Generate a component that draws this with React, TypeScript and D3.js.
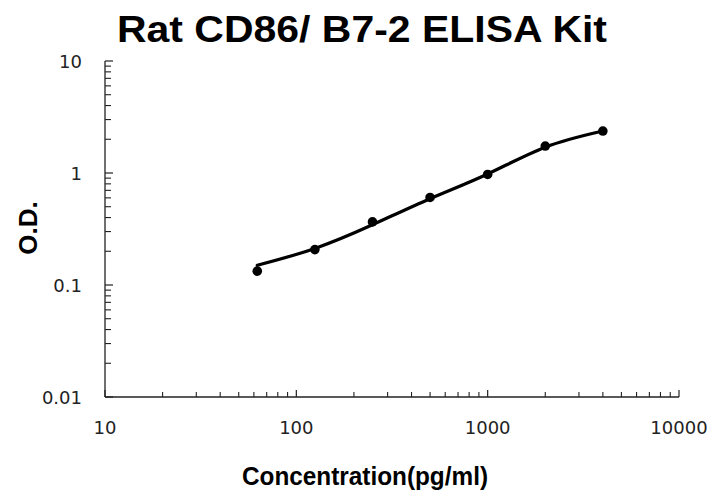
import React from "react";
import * as d3 from "d3";

const concentrations = [62.5, 125, 250, 500, 1000, 2000, 4000];
const odValues = [0.133, 0.207, 0.366, 0.605, 0.971, 1.74, 2.37];
const fitConc = [62.5, 125, 250, 500, 1000, 2000, 4000];
const fitOD = [0.150, 0.212, 0.345, 0.59, 0.98, 1.70, 2.37];
const xTicks = [10, 100, 1000, 10000];
const xTickLabels = ["10", "100", "1000", "10000"];
const yTicks = [0.01, 0.1, 1, 10];
const yTickLabels = ["0.01", "0.1", "1", "10"];
const title = "Rat CD86/ B7-2 ELISA Kit";
const xTitle = "Concentration(pg/ml)";
const yTitle = "O.D.";

const W = 710, H = 490;
const left = 105, right = 679, top = 61, bottom = 397;

function minors(decades: number[]) {
  const out: number[] = [];
  for (let i = 0; i < decades.length - 1; i++) {
    for (let k = 2; k <= 9; k++) out.push(decades[i] * k);
  }
  return out;
}

export default function App() {
  const x = d3.scaleLog().domain([10, 10000]).range([left, right]);
  const y = d3.scaleLog().domain([0.01, 10]).range([bottom, top]);
  const line = d3
    .line<[number, number]>()
    .x((d) => x(d[0]))
    .y((d) => y(d[1]))
    .curve(d3.curveNatural);
  const fitPts = fitConc.map((c, i) => [c, fitOD[i]] as [number, number]);
  const axisColor = "#222";
  const tickFont = "'DejaVu Sans', Verdana, sans-serif";
  const boldFont = "'Liberation Sans', Arial, sans-serif";

  return (
    <svg
      width={W}
      height={H}
      style={{ position: "absolute", left: 0, top: 0, display: "block", background: "#fff" }}
    >
      <rect x={0} y={0} width={W} height={H} fill="#fff" />
      <text
        x={362}
        y={42}
        textAnchor="middle"
        fontFamily={boldFont}
        fontWeight="bold"
        fontSize={37}
        textLength={490}
        lengthAdjust="spacingAndGlyphs"
        fill="#000"
      >
        {title}
      </text>

      <line x1={left} x2={left} y1={top} y2={bottom} stroke={axisColor} strokeWidth={1.3} />
      <line x1={left} x2={right} y1={bottom} y2={bottom} stroke={axisColor} strokeWidth={1.3} />

      {yTicks.map((t, i) => (
        <g key={"yt" + i}>
          <line x1={left} x2={left + 8} y1={y(t)} y2={y(t)} stroke={axisColor} strokeWidth={1.2} />
          <text
            x={82}
            y={y(t) + 6.6}
            textAnchor="end"
            fontFamily={tickFont}
            fontSize={18}
            fill="#222"
          >
            {yTickLabels[i]}
          </text>
        </g>
      ))}
      {minors(yTicks).map((t, i) => (
        <line key={"ym" + i} x1={left} x2={left + 6} y1={y(t)} y2={y(t)} stroke={axisColor} strokeWidth={1.1} />
      ))}

      {xTicks.map((t, i) => (
        <g key={"xt" + i}>
          <line x1={x(t)} x2={x(t)} y1={bottom} y2={bottom - 7} stroke={axisColor} strokeWidth={1.2} />
          <text
            x={x(t)}
            y={433.5}
            textAnchor="middle"
            fontFamily={tickFont}
            fontSize={18}
            fill="#222"
          >
            {xTickLabels[i]}
          </text>
        </g>
      ))}
      {minors(xTicks).map((t, i) => (
        <line key={"xm" + i} x1={x(t)} x2={x(t)} y1={bottom} y2={bottom - 5} stroke={axisColor} strokeWidth={1.1} />
      ))}

      <path d={line(fitPts) || ""} fill="none" stroke="#000" strokeWidth={3.2} strokeLinecap="round" />

      {concentrations.map((c, i) => (
        <circle key={"p" + i} cx={x(c)} cy={y(odValues[i])} r={4.8} fill="#000" />
      ))}

      <text
        x={365}
        y={485}
        textAnchor="middle"
        fontFamily={boldFont}
        fontWeight="bold"
        fontSize={25}
        textLength={246}
        lengthAdjust="spacingAndGlyphs"
        fill="#000"
      >
        {xTitle}
      </text>
      <text
        transform={`translate(37, 228) rotate(-90)`}
        textAnchor="middle"
        fontFamily={boldFont}
        fontWeight="bold"
        fontSize={26}
        fill="#000"
      >
        {yTitle}
      </text>
    </svg>
  );
}
